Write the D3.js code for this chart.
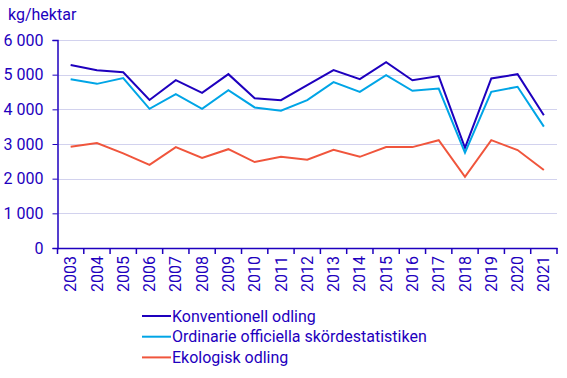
<!doctype html>
<html lang="sv">
<head>
<meta charset="UTF-8">
<title>Skörd kg/hektar</title>
<script src="https://d3js.org/d3.v7.min.js"></script>
<style>
  body { margin: 0; background: #fff; }
  text { font-family: Roboto, "Noto Sans", sans-serif; fill: #1e00be; }
</style>
</head>
<body>
<div id="chart-area"></div>

<script>
const years = ['2003','2004','2005','2006','2007','2008','2009','2010','2011','2012',
               '2013','2014','2015','2016','2017','2018','2019','2020','2021'];

const konventionell = [5280, 5130, 5070, 4270, 4840, 4475, 5015, 4320, 4265, 4700,
                       5130, 4870, 5360, 4840, 4960, 2890, 4890, 5015, 3830];
const ordinarie     = [4870, 4735, 4900, 4015, 4440, 4015, 4550, 4055, 3960, 4265,
                       4785, 4505, 4985, 4535, 4600, 2750, 4505, 4650, 3500];
const ekologisk     = [2920, 3025, 2730, 2400, 2910, 2600, 2850, 2480, 2630, 2545,
                       2830, 2630, 2910, 2910, 3110, 2055, 3110, 2825, 2250];

const seriesNames = ['Konventionell odling', 'Ordinarie officiella skördestatistiken', 'Ekologisk odling'];
const yTicks = [0, 1000, 2000, 3000, 4000, 5000, 6000];

const colors = ['#1e00be', '#00a5e6', '#f0553c'];
const series = [konventionell, ordinarie, ekologisk];

const W = 567, H = 378;
const left = 57.5, right = 557;
const fs = 16;

const svg = d3.select('#chart-area')
    .append('svg')
    .attr('width', W)
    .attr('height', H);

const x = d3.scaleBand()
    .domain(years)
    .range([left, right]);

const y = d3.scaleLinear()
    .domain([0, 6000])
    .range([248, 40]);

const sv = d3.formatLocale({ decimal: ',', thousands: '\u00a0', grouping: [3], currency: ['', ' kr'] });
const fmt = sv.format(',');

// gridlines
svg.append('g')
    .selectAll('line')
    .data(yTicks.filter(d => d > 0))
    .join('line')
    .attr('x1', left)
    .attr('x2', right)
    .attr('y1', d => Math.round(y(d)) + 0.5)
    .attr('y2', d => Math.round(y(d)) + 0.5)
    .attr('stroke', '#d2d2ee')
    .attr('stroke-width', 1);

// y axis
const yAxis = svg.append('g')
    .attr('transform', `translate(${left},0)`)
    .call(d3.axisLeft(y).tickValues(yTicks).tickFormat(fmt).tickSize(5).tickPadding(9));
yAxis.select('.domain').attr('stroke', '#1e00be').attr('stroke-width', 1.5);
yAxis.selectAll('.tick line').attr('stroke', '#1e00be');
yAxis.selectAll('.tick text').attr('font-size', fs).attr('fill', '#1e00be');

// x axis
const xAxis = svg.append('g')
    .attr('transform', 'translate(0,248)')
    .call(d3.axisBottom(x).tickSize(0));
xAxis.select('.domain').attr('stroke', '#1e00be').attr('stroke-width', 1.5);
xAxis.selectAll('.tick text')
    .attr('font-size', fs)
    .attr('fill', '#1e00be')
    .attr('transform', 'rotate(-90)')
    .attr('text-anchor', 'end')
    .attr('x', -8)
    .attr('y', 0)
    .attr('dy', '0.35em');

// band boundary ticks
svg.append('g')
    .selectAll('line')
    .data(d3.range(years.length + 1))
    .join('line')
    .attr('x1', i => i < years.length ? x(years[i]) : right)
    .attr('x2', i => i < years.length ? x(years[i]) : right)
    .attr('y1', 248)
    .attr('y2', 254)
    .attr('stroke', '#1e00be')
    .attr('stroke-width', 1.5);

// lines
const line = d3.line()
    .x((d, i) => x(years[i]) + x.bandwidth() / 2)
    .y(d => y(d));

svg.append('g')
    .selectAll('path')
    .data(series)
    .join('path')
    .attr('d', line)
    .attr('fill', 'none')
    .attr('stroke', (d, i) => colors[i])
    .attr('stroke-width', 2)
    .attr('stroke-linejoin', 'miter');

// title
svg.append('text')
    .attr('x', 8)
    .attr('y', 20)
    .attr('font-size', fs)
    .text('kg/hektar');

// legend
const legend = svg.append('g')
    .selectAll('g')
    .data(seriesNames)
    .join('g')
    .attr('transform', (d, i) => `translate(142,${316 + i * 20.7})`);

legend.append('line')
    .attr('x1', 0)
    .attr('x2', 29)
    .attr('stroke', (d, i) => colors[i])
    .attr('stroke-width', 2);

legend.append('text')
    .attr('x', 30)
    .attr('dy', '0.35em')
    .attr('font-size', fs)
    .text(d => d);
</script>
</body>
</html>
